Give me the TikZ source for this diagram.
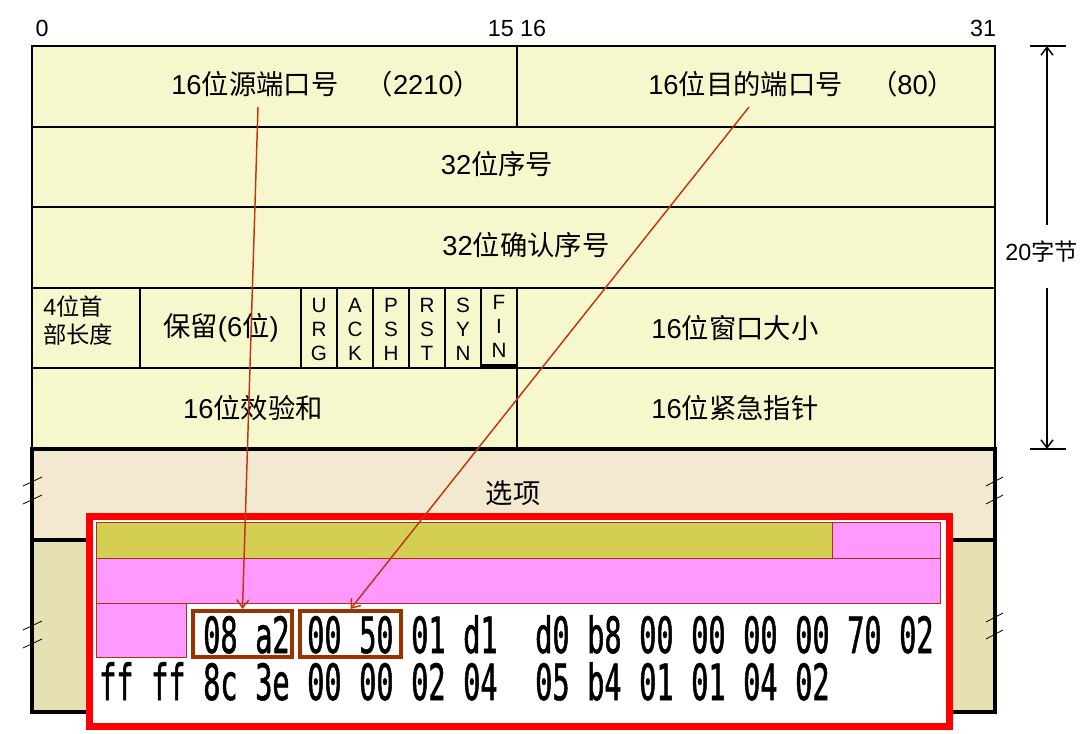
\documentclass[tikz,border=0pt]{standalone}
\usepackage{fontspec}
\setmainfont{Liberation Sans}
\newfontfamily\zhfont{Noto Sans CJK SC}
\newfontfamily\hexfont[FakeStretch=0.57,FakeBold=1]{DejaVu Sans Mono}
\newcommand{\zh}[1]{{\zhfont #1}}
\usetikzlibrary{arrows.meta}
\definecolor{hdrfill}{RGB}{247,247,206}
\definecolor{optfill}{RGB}{242,233,208}
\definecolor{lowfill}{RGB}{229,225,179}
\definecolor{olivebar}{RGB}{212,206,82}
\definecolor{pinkbar}{RGB}{255,153,255}
\definecolor{barred}{RGB}{170,50,20}
\definecolor{hexbrown}{RGB}{153,51,0}
\definecolor{ptrred}{RGB}{190,55,15}
\tikzset{
  field/.style={inner sep=0pt,font=\fontsize{20.5}{24}\selectfont},
  note/.style={inner sep=0pt,font=\fontsize{17.5}{21}\selectfont},
  flag/.style={inner sep=0pt,align=center,font=\fontsize{15.5}{18}\selectfont},
  hexbyte/.style={inner sep=0pt,anchor=base west,font=\hexfont\fontsize{37.5}{40}\selectfont},
  hexbox/.style={draw=hexbrown,line width=3pt,inner sep=0pt,minimum height=34.5pt},
  ptr/.style={draw=ptrred,line width=1.1pt,-{Straight Barb[length=6pt,width=9pt]}},
  dimline/.style={line width=1.1pt,-{Straight Barb[length=6pt,width=9pt]}},
  gridline/.style={line width=1.6pt},
  heavyline/.style={line width=3pt},
  cutmark/.style={line width=0.6pt},
  barline/.style={draw=barred,line width=0.75pt}
}
\begin{document}
\begin{tikzpicture}[x=0.75pt,y=-0.75pt]
\useasboundingbox (0,0) rectangle (1082,734);
\fill[white] (0,0) rectangle (1082,734);

\fill[hdrfill] (32,46) rectangle (995,449);
\draw[gridline] (32,46) rectangle (995,449);
\foreach \y in {127,207,288,368} \draw[gridline] (32,\y) -- (995,\y);
\draw[gridline] (517,46) -- (517,127);
\draw[gridline] (517,288) -- (517,449);
\foreach \x in {140,301,337,373,409,445,481} \draw[gridline] (\x,288) -- (\x,368);
\draw[line width=2.25pt] (481,366) -- (517,366);

\node[note] (bit0) at (42,28) {0};
\node[note] (bit15) at (517,28) {15 16};
\node[note] (bit31) at (983,28) {31};

\node[field,anchor=west] (srcport) at (171,84) {16\zh{位源端口号}\quad\zh{（}2210\zh{）}};
\node[field,anchor=west] (dstport) at (648,84) {16\zh{位目的端口号}\quad\zh{（}80\zh{）}};
\node[field] (seqno) at (497,164) {32\zh{位序号}};
\node[field] (ackno) at (526,245) {32\zh{位确认序号}};
\node[note,align=left,anchor=west] (hdrlen) at (43,321) {4\zh{位首}\\\zh{部长度}};
\node[field] (resv) at (221,328) {\zh{保留}(6\zh{位})};
\foreach \a/\b/\c [count=\i from 0] in {U/R/G,A/C/K,P/S/H,R/S/T,S/Y/N}
  \node[flag] (flag\i) at ({319+36*\i},329) {\a\\\b\\\c};
\node[flag] (flagfin) at (499,326) {F\\I\\N};
\node[field] (window) at (735,328) {16\zh{位窗口大小}};
\node[field] (csum) at (253,408) {16\zh{位效验和}};
\node[field] (urgptr) at (735,408) {16\zh{位紧急指针}};

\fill[optfill] (32,449) rectangle (995,540);
\fill[lowfill] (32,540) rectangle (995,712);
\draw[heavyline] (32,449) rectangle (995,712);
\draw[heavyline] (32,540) -- (995,540);
\node[field] (options) at (513,493) {\zh{选项}};
\foreach \y in {486,504,630,648} \draw[cutmark] (23,\y) -- (42,\y-9);
\foreach \y in {486,504,622,639} \draw[cutmark] (986,\y) -- (1003,\y-9);

\draw[red,line width=5.25pt,fill=white] (89,516.5) rectangle (949.5,726);
\draw[barline,fill=olivebar] (96,522) rectangle (832,558);
\draw[barline,fill=pinkbar] (832,522) rectangle (940,558);
\draw[barline,fill=pinkbar] (96,558) rectangle (940,603);
\draw[barline,fill=pinkbar] (96,603) rectangle (186,657);

\foreach \b [count=\i from 2] in {08,a2,00,50,01,d1,d0,b8,00,00,00,00,70,02}
  \node[hexbyte] (rowa\i) at ({99+52*\i+(\i>7)*20},653) {\b};
\foreach \b [count=\i from 0] in {ff,ff,8c,3e,00,00,02,04,05,b4,01,01,04,02}
  \node[hexbyte] (rowb\i) at ({99+52*\i+(\i>7)*20},700) {\b};
\node[hexbox,minimum width=74.25pt] (hexsrc) at (242.5,634) {};
\node[hexbox,minimum width=75.75pt] (hexdst) at (350.5,634) {};

\coordinate (srcfoot) at (258,107);
\coordinate (dstfoot) at (749,107);
\draw[ptr] (srcfoot) -- (hexsrc.north);
\draw[ptr] (dstfoot) -- (hexdst.north);

\coordinate (dimtop) at (1047,46);
\coordinate (dimbot) at (1047,449);
\draw[gridline] (1030,46) -- (1066,46);
\draw[gridline] (1030,449) -- (1066,449);
\node[note,anchor=west] (bytes) at (1005,252) {20\zh{字节}};
\draw[dimline] (1047,225) -- (dimtop);
\draw[dimline] (1047,288) -- (dimbot);
\end{tikzpicture}
\end{document}
